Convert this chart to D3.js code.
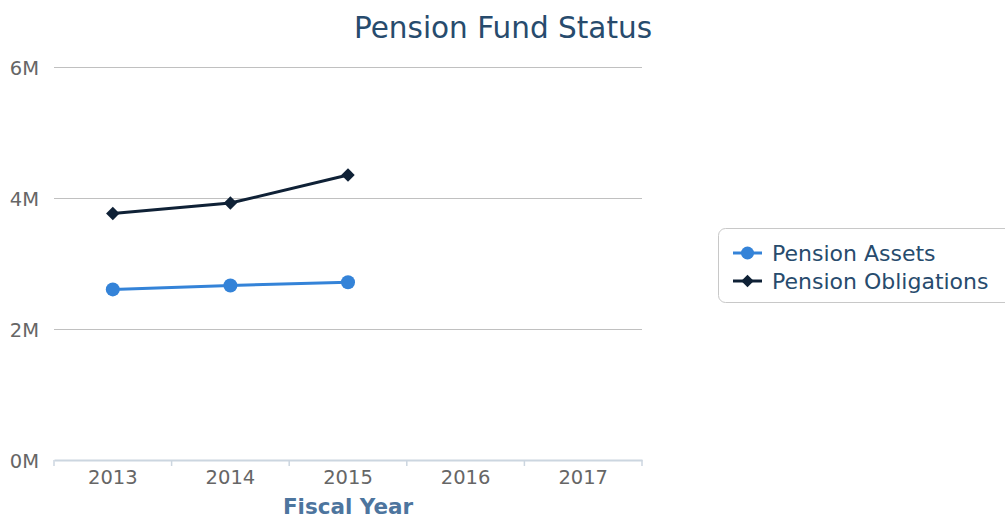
<!DOCTYPE html>
<html><head><meta charset="utf-8">
<script src="https://cdnjs.cloudflare.com/ajax/libs/d3/7.8.5/d3.min.js"></script>
<style>body{margin:0;background:#fff}svg{display:block;font-family:"DejaVu Sans",sans-serif}</style>
</head><body>
<svg id="c" width="1005" height="519" font-family="DejaVu Sans"></svg>
<script>
const categories = ["2013","2014","2015","2016","2017"];
const assets = [2.6e6, 2.66e6, 2.71e6, null, null];
const obligations = [3.76e6, 3.92e6, 4.35e6, null, null];
const yTicks = [0, 2e6, 4e6, 6e6];
const seriesNames = ["Pension Assets","Pension Obligations"];

const svg = d3.select("#c");
const x = d3.scaleBand().domain(categories).range([54, 642]);
const y = d3.scaleLinear().domain([0, 6e6]).range([459.5, 67]);

// grid
svg.append("g").selectAll("line").data(yTicks.filter(d=>d>0)).join("line")
  .attr("x1",54).attr("x2",642).attr("y1",d=>Math.round(y(d))+0.5).attr("y2",d=>Math.round(y(d))+0.5)
  .attr("stroke","#c0c0c0").attr("stroke-width",1);
// y labels
svg.append("g").selectAll("text").data(yTicks).join("text")
  .attr("x",39).attr("y",d=>y(d)+8).attr("text-anchor","end")
  .attr("fill","#666").attr("font-size",19.5).text(d=>(d/1e6)+"M");

// x axis
const xg = svg.append("g").attr("transform","translate(0,460)")
  .call(d3.axisBottom(x).tickSize(0).tickPadding(0));
xg.select(".domain").attr("stroke","#ccd6e0").attr("stroke-width",2);
xg.selectAll("text").attr("fill","#666").attr("font-size",19.5).attr("font-family","DejaVu Sans")
  .attr("dy",null).attr("y",24);
const bounds = categories.map(c=>x(c)).concat([x.range()[1]]);
svg.append("g").selectAll("line").data(bounds).join("line")
  .attr("x1",d=>d).attr("x2",d=>d).attr("y1",460).attr("y2",466)
  .attr("stroke","#ccd6e0").attr("stroke-width",1.5);

svg.append("text").attr("x",348).attr("y",514).attr("text-anchor","middle")
  .attr("fill","#4d759e").attr("font-weight","bold").attr("font-size",21.5).text("Fiscal Year");

svg.append("text").attr("x",503).attr("y",38).attr("text-anchor","middle")
  .attr("fill","#274b6d").attr("font-size",29.5).text("Pension Fund Status");

const cx = c => x(c) + x.bandwidth()/2;
const line = d3.line().defined(d=>d[1]!=null).x(d=>cx(d[0])).y(d=>y(d[1]));
const colors = ["#3483d8","#0f2136"];
[assets, obligations].forEach((vals,i)=>{
  const pts = categories.map((c,j)=>[c, vals[j]]);
  svg.append("path").datum(pts).attr("d",line).attr("fill","none")
    .attr("stroke",colors[i]).attr("stroke-width",3).attr("stroke-linejoin","round");
  const valid = pts.filter(d=>d[1]!=null);
  if(i===0){
    svg.append("g").selectAll("circle").data(valid).join("circle")
      .attr("cx",d=>cx(d[0])).attr("cy",d=>y(d[1])).attr("r",7).attr("fill",colors[i]);
  } else {
    svg.append("g").selectAll("path").data(valid).join("path")
      .attr("d",d3.symbol(d3.symbolDiamond2, 115)())
      .attr("transform",d=>`translate(${cx(d[0])},${y(d[1])})`).attr("fill",colors[i]);
  }
});

// legend
const lg = svg.append("g");
lg.append("rect").attr("x",718.5).attr("y",228.5).attr("width",300).attr("height",74).attr("rx",7)
  .attr("fill","#fff").attr("stroke","#c8c8c8").attr("stroke-width",1);
seriesNames.forEach((n,i)=>{
  const yy = 253 + i*28;
  lg.append("line").attr("x1",733).attr("x2",762).attr("y1",yy).attr("y2",yy)
    .attr("stroke",colors[i]).attr("stroke-width",3);
  if(i===0) lg.append("circle").attr("cx",747.5).attr("cy",yy).attr("r",6.5).attr("fill",colors[i]);
  else lg.append("path").attr("d",d3.symbol(d3.symbolDiamond2,100)()).attr("transform",`translate(747.5,${yy})`).attr("fill",colors[i]);
  lg.append("text").attr("x",772).attr("y",yy+8).attr("fill","#274b6d").attr("font-size",22).text(n);
});
</script>
</body></html>
